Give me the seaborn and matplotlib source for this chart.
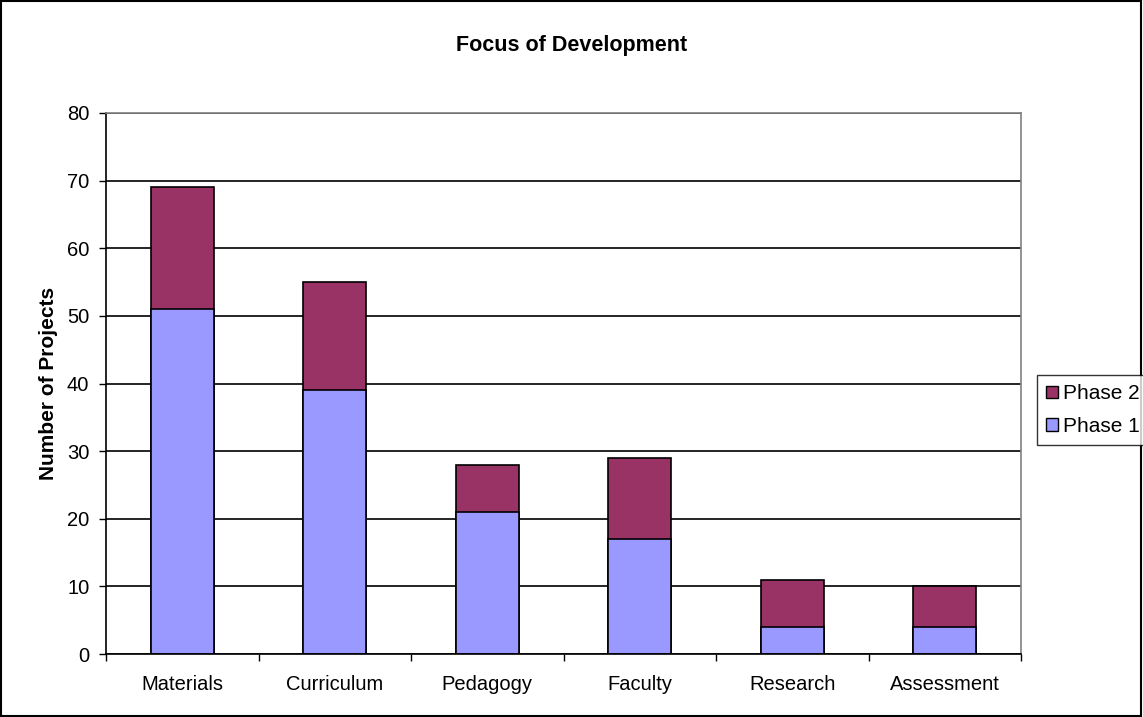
import numpy as np
import pandas as pd
import seaborn as sns
import matplotlib.pyplot as plt
from matplotlib.patches import Rectangle, Patch

categories = ["Materials", "Curriculum", "Pedagogy", "Faculty", "Research", "Assessment"]
phase1 = [51, 39, 21, 17, 4, 4]
phase2 = [18, 16, 7, 12, 7, 6]

totals = [a + b for a, b in zip(phase1, phase2)]
df = pd.DataFrame({"category": categories, "Phase 1": phase1, "Total": totals})

sns.set_style("white")
plt.rcParams["font.family"] = ["Liberation Sans", "DejaVu Sans"]
for k in ["text.color", "axes.labelcolor", "xtick.color", "ytick.color"]:
    plt.rcParams[k] = "black"

fig = plt.figure(figsize=(11.43, 7.17), dpi=100)
ax = fig.add_axes([106 / 1143, 1 - 654 / 717, 915 / 1143, 541 / 717])

c2 = "#993366"
c1 = "#9999FF"
# stacked look: total bar in phase 2 colour, phase 1 drawn over it
sns.barplot(data=df, x="category", y="Total", order=categories, color=c2,
            saturation=1, width=0.41, edgecolor="black", linewidth=1.2, ax=ax)
sns.barplot(data=df, x="category", y="Phase 1", order=categories, color=c1,
            saturation=1, width=0.41, edgecolor="black", linewidth=1.2, ax=ax)

ax.set_xlim(-0.5, len(categories) - 0.5)
ax.set_ylim(0, 80)
ax.set_yticks(range(0, 81, 10))
ax.yaxis.grid(True, color="black", linewidth=1.2)
ax.set_axisbelow(True)

ax.set_xticks(np.arange(-0.5, len(categories), 1.0))
ax.set_xticklabels([])
ax.set_xticks(range(len(categories)), minor=True)
ax.set_xticklabels(categories, minor=True, fontsize=14.5)
ax.tick_params(axis="x", which="minor", length=0, pad=15)
ax.tick_params(axis="x", which="major", length=5, width=1, direction="out", bottom=True)
ax.tick_params(axis="y", length=5, width=1, direction="out", left=True, labelsize=14.5, pad=7)

for s in ["left", "bottom"]:
    ax.spines[s].set_color("black")
    ax.spines[s].set_linewidth(1.2)
for s in ["top", "right"]:
    ax.spines[s].set_color("#808080")
    ax.spines[s].set_linewidth(1.2)

ax.set_xlabel("")
ax.set_ylabel("Number of Projects", fontsize=15, fontweight="bold", labelpad=6.5)

fig.text(0.5, 1 - 45 / 717, "Focus of Development", ha="center", va="center",
         fontsize=15.5, fontweight="bold")

handles = [Patch(facecolor=c2, edgecolor="black", label="Phase 2"),
           Patch(facecolor=c1, edgecolor="black", label="Phase 1")]
leg = fig.legend(handles=handles, loc="center left", bbox_to_anchor=(1037 / 1143, 1 - 410 / 717),
                 frameon=True, fancybox=False, fontsize=15, handlelength=0.55, handleheight=0.55,
                 handletextpad=0.25, borderpad=0.45, labelspacing=0.65, borderaxespad=0)
leg.get_frame().set_edgecolor("black")
leg.get_frame().set_linewidth(1)

fig.patches.append(Rectangle((0.001, 0.001), 0.997, 0.997, transform=fig.transFigure,
                             fill=False, edgecolor="black", linewidth=1.5))

fig.savefig("out.png", dpi=100)
